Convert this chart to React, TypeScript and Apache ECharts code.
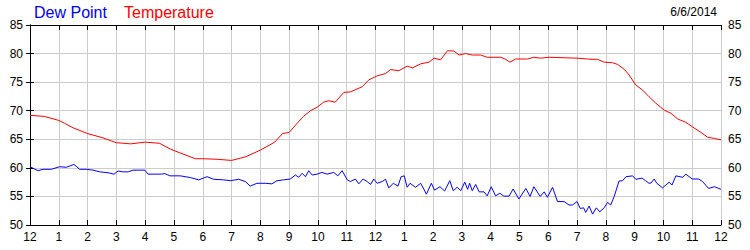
import React, { useEffect, useRef } from "react";
import * as echarts from "echarts";

const xTickHours = [0, 24];
const yRange = [50, 85];

const tempHours = [0, 0.5, 1.0, 1.2, 1.5, 2.0, 2.5, 3.0, 3.5, 4.0, 4.5, 4.87, 5.22, 5.74, 6.0, 6.5, 7.0, 7.5, 8.0, 8.5, 8.77, 9.0, 9.28, 9.5, 9.74, 9.97, 10.2, 10.37, 10.6, 10.9, 11.13, 11.54, 11.77, 12.06, 12.35, 12.52, 12.81, 13.1, 13.28, 13.57, 13.86, 14.03, 14.26, 14.5, 14.72, 14.9, 15.13, 15.36, 15.65, 15.88, 16.35, 16.52, 16.67, 16.87, 17.28, 17.5, 17.74, 18.03, 19.0, 19.48, 19.71, 19.94, 20.23, 20.41, 20.64, 20.81, 21.04, 21.28, 21.5, 21.74, 22.03, 22.26, 22.5, 22.78, 23.0, 23.3, 23.54, 23.77, 24];
const tempValues = [69.2, 69.0, 68.3, 67.8, 67.0, 66.0, 65.3, 64.4, 64.2, 64.5, 64.3, 63.3, 62.6, 61.6, 61.6, 61.5, 61.3, 61.95, 63.1, 64.5, 66.0, 66.2, 67.8, 69.0, 70.0, 70.6, 71.5, 71.75, 71.5, 73.2, 73.3, 74.2, 75.4, 76.1, 76.5, 77.2, 77.0, 77.8, 77.5, 78.2, 78.5, 79.2, 78.9, 80.5, 80.45, 79.75, 80.0, 79.75, 79.75, 79.35, 79.35, 79.0, 78.5, 79.05, 79.05, 79.35, 79.2, 79.35, 79.2, 79.0, 79.0, 78.5, 78.4, 78.1, 77.25, 76.25, 74.5, 73.6, 72.45, 71.3, 70.1, 69.55, 68.55, 67.97, 67.2, 66.2, 65.35, 65.15, 64.9];

const dewHours = [0, 0.16, 0.28, 0.45, 0.74, 1.03, 1.26, 1.53, 1.73, 1.96, 2.19, 2.42, 2.71, 2.92, 3.06, 3.23, 3.41, 3.58, 3.99, 4.1, 4.57, 4.68, 4.86, 5.22, 5.57, 5.86, 6.15, 6.38, 6.72, 6.96, 7.25, 7.48, 7.65, 7.88, 8.17, 8.4, 8.58, 8.81, 9.04, 9.22, 9.33, 9.45, 9.57, 9.68, 9.8, 9.97, 10.14, 10.32, 10.55, 10.69, 10.84, 11.02, 11.13, 11.3, 11.42, 11.57, 11.71, 11.83, 11.94, 12.06, 12.23, 12.35, 12.46, 12.62, 12.78, 12.89, 13.0, 13.1, 13.2, 13.39, 13.57, 13.77, 13.94, 14.05, 14.24, 14.4, 14.58, 14.7, 14.84, 14.96, 15.1, 15.2, 15.27, 15.36, 15.48, 15.6, 15.77, 15.88, 16.02, 16.17, 16.32, 16.46, 16.64, 16.78, 16.98, 17.22, 17.37, 17.5, 17.72, 17.86, 17.97, 18.15, 18.32, 18.55, 18.72, 18.84, 19.0, 19.11, 19.23, 19.3, 19.42, 19.54, 19.67, 19.79, 19.94, 20.06, 20.17, 20.29, 20.46, 20.58, 20.7, 20.93, 21.04, 21.26, 21.38, 21.5, 21.57, 21.68, 21.77, 21.97, 22.2, 22.3, 22.43, 22.67, 22.78, 23.0, 23.23, 23.36, 23.57, 23.77, 24];
const dewValues = [60.2, 59.8, 59.5, 59.75, 59.75, 60.2, 60.1, 60.6, 59.75, 59.75, 59.6, 59.3, 59.15, 58.9, 59.45, 59.3, 59.3, 59.6, 59.6, 58.9, 58.9, 59.0, 58.6, 58.6, 58.3, 57.9, 58.45, 58.0, 57.9, 57.75, 58.0, 57.6, 56.8, 57.3, 57.3, 57.2, 57.75, 57.9, 58.05, 58.75, 58.35, 59.05, 58.45, 59.5, 58.75, 58.9, 59.2, 58.9, 59.2, 58.6, 59.5, 57.9, 57.6, 58.05, 57.2, 58.05, 57.6, 57.1, 58.05, 57.3, 57.6, 58.0, 56.5, 57.3, 56.8, 58.45, 58.6, 56.6, 57.3, 56.6, 57.3, 55.4, 57.3, 56.1, 56.7, 55.95, 57.75, 56.0, 56.6, 56.0, 57.5, 56.25, 57.3, 56.0, 57.1, 55.8, 55.8, 55.1, 56.7, 55.1, 55.55, 55.05, 55.05, 56.3, 54.55, 56.4, 55.0, 56.7, 55.0, 55.8, 54.85, 56.6, 54.1, 54.1, 53.5, 53.5, 54.1, 52.9, 53.0, 52.2, 53.3, 51.9, 53.0, 52.3, 53.0, 53.95, 53.5, 55.0, 57.7, 57.75, 58.45, 58.6, 58.0, 58.2, 57.75, 57.3, 57.35, 58.05, 57.3, 56.5, 57.5, 57.0, 58.6, 58.35, 58.9, 58.05, 58.05, 57.6, 56.4, 56.7, 56.25];

const legendNames = ["Dew Point", "Temperature"];
const dateText = "6/6/2014";

const FONT = 'Arial, "Liberation Sans", sans-serif';

export default function App() {
  const ref = useRef<HTMLDivElement>(null);
  useEffect(() => {
    if (!ref.current) return;
    const chart = echarts.init(ref.current, null, { renderer: "svg" });
    const hourLabel = (v: number) => {
      const h = Math.round(v) % 12;
      return h === 0 ? "12" : String(h);
    };
    const yAxisCommon = {
      type: "value",
      min: yRange[0],
      max: yRange[1],
      interval: 5,
      axisLine: { show: true, lineStyle: { color: "#000", width: 1 } },
      axisTick: { show: true, inside: false, length: 4, lineStyle: { color: "#000" } },
      axisLabel: { color: "#000", fontSize: 12, fontFamily: FONT, margin: 7 },
    };
    chart.setOption({
      animation: false,
      backgroundColor: "#fff",
      grid: { left: 30, right: 29, top: 25, bottom: 25, containLabel: false },
      graphic: [
        { type: "text", left: 34, top: 4, style: { text: legendNames[0], fill: "#0000ff", fontSize: 16, fontFamily: FONT } },
        { type: "text", left: 124, top: 4, style: { text: legendNames[1], fill: "#ff0000", fontSize: 16, fontFamily: FONT } },
        { type: "text", right: 33, top: 6, style: { text: dateText, fill: "#000", fontSize: 12, fontFamily: FONT } },
      ],
      xAxis: [
        {
          type: "value",
          position: "bottom",
          min: xTickHours[0],
          max: xTickHours[1],
          interval: 1,
          axisLine: { show: true, lineStyle: { color: "#000", width: 1 } },
          axisTick: { show: true, inside: true, length: 5, lineStyle: { color: "#000" } },
          axisLabel: { color: "#000", fontSize: 12, fontFamily: FONT, margin: 6, formatter: hourLabel },
          splitLine: { show: true, lineStyle: { color: "#cccccc", width: 1 } },
        },
        {
          type: "value",
          position: "top",
          min: xTickHours[0],
          max: xTickHours[1],
          interval: 1,
          axisLine: { show: true, lineStyle: { color: "#000", width: 1 } },
          axisTick: { show: true, inside: true, length: 5, lineStyle: { color: "#000" } },
          axisLabel: { show: false },
          splitLine: { show: false },
        },
      ],
      yAxis: [
        { ...yAxisCommon, position: "left", splitLine: { show: true, lineStyle: { color: "#cccccc", width: 1 } } },
        { ...yAxisCommon, position: "right", splitLine: { show: false } },
      ],
      series: [
        {
          name: legendNames[0],
          type: "line",
          data: dewHours.map((h, i) => [h, dewValues[i]]),
          showSymbol: false,
          lineStyle: { color: "#0000ff", width: 1 },
          itemStyle: { color: "#0000ff" },
        },
        {
          name: legendNames[1],
          type: "line",
          data: tempHours.map((h, i) => [h, tempValues[i]]),
          showSymbol: false,
          lineStyle: { color: "#ff0000", width: 1 },
          itemStyle: { color: "#ff0000" },
        },
      ],
    });
    return () => chart.dispose();
  }, []);
  return <div ref={ref} style={{ position: "fixed", left: 0, top: 0, width: 750, height: 250, background: "#fff" }} />;
}
